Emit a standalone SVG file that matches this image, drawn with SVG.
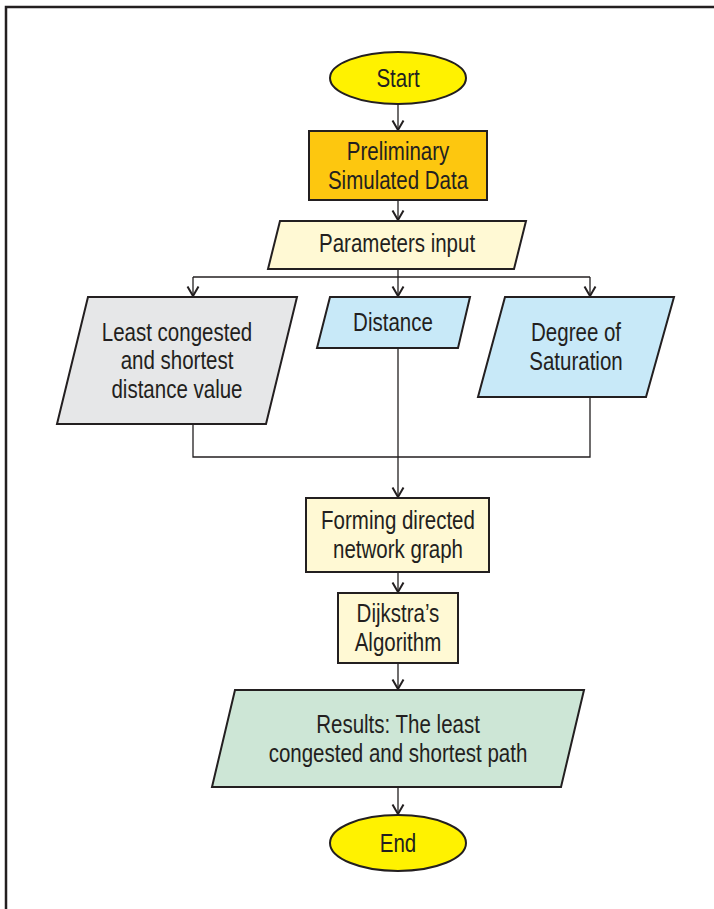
<svg xmlns="http://www.w3.org/2000/svg" width="714" height="909" viewBox="0 0 714 909">
  <style>
    .shape { stroke: #231f20; stroke-width: 2; }
    .conn { fill: none; stroke: #231f20; stroke-width: 1.3; }
    .lbl { font-family: "Liberation Sans", Arial, sans-serif; font-size: 25px; fill: #231f20; text-anchor: middle;
           transform-box: fill-box; transform-origin: center; transform: scaleX(0.82); }
  </style>
  <defs>
    <marker id="arrow" markerUnits="userSpaceOnUse" markerWidth="14" markerHeight="14" refX="12" refY="7" orient="auto" viewBox="0 0 14 14">
      <path d="M2.5,1.5 L12,7 L2.5,12.5" fill="none" stroke="#231f20" stroke-width="2"/>
    </marker>
  </defs>
  <rect width="714" height="909" fill="#ffffff"/>
  <!-- outer frame -->
  <rect x="6" y="7" width="720" height="920" fill="none" stroke="#231f20" stroke-width="2.5"/>

  <g id="connectors">
    <path class="conn" d="M398,104 V130" marker-end="url(#arrow)"/>
    <path class="conn" d="M398,200 V220" marker-end="url(#arrow)"/>
    <path class="conn" d="M398,269 V296" marker-end="url(#arrow)"/>
    <path class="conn" d="M193,277 H590"/>
    <path class="conn" d="M193,277 V296" marker-end="url(#arrow)"/>
    <path class="conn" d="M590,277 V296" marker-end="url(#arrow)"/>
    <path class="conn" d="M193,424 V457 H590 V397"/>
    <path class="conn" d="M398,348 V497" marker-end="url(#arrow)"/>
    <path class="conn" d="M398,572 V592" marker-end="url(#arrow)"/>
    <path class="conn" d="M398,663 V689" marker-end="url(#arrow)"/>
    <path class="conn" d="M398,787 V814" marker-end="url(#arrow)"/>
  </g>

  <g id="start">
    <ellipse class="shape" cx="398" cy="78" rx="68" ry="26" fill="#fff200"/>
    <text class="lbl" x="398" y="87">Start</text>
  </g>

  <g id="preliminary">
    <rect class="shape" x="309" y="131" width="178" height="69" fill="#fdc70f"/>
    <text class="lbl" x="398" y="160">Preliminary</text>
    <text class="lbl" x="398" y="189">Simulated Data</text>
  </g>

  <g id="parameters">
    <polygon class="shape" points="280,221 526,221 514,269 268,269" fill="#fff9d4"/>
    <text class="lbl" x="397" y="252">Parameters input</text>
  </g>

  <g id="least">
    <polygon class="shape" points="88,297 297,297 266,424 57,424" fill="#e6e7e8"/>
    <text class="lbl" x="177" y="341">Least congested</text>
    <text class="lbl" x="177" y="369">and shortest</text>
    <text class="lbl" x="177" y="398">distance value</text>
  </g>

  <g id="distance">
    <polygon class="shape" points="330,297 470,297 458,348 317,348" fill="#c8e9f8"/>
    <text class="lbl" x="393" y="331">Distance</text>
  </g>

  <g id="saturation">
    <polygon class="shape" points="505,297 674,297 646,397 478,397" fill="#c8e9f8"/>
    <text class="lbl" x="576" y="341">Degree of</text>
    <text class="lbl" x="576" y="370">Saturation</text>
  </g>

  <g id="graph">
    <rect class="shape" x="306" y="498" width="183" height="74" fill="#fff9d4"/>
    <text class="lbl" x="398" y="529">Forming directed</text>
    <text class="lbl" x="398" y="558">network graph</text>
  </g>

  <g id="dijkstra">
    <rect class="shape" x="338" y="593" width="120" height="70" fill="#fff9d4"/>
    <text class="lbl" x="398" y="622">Dijkstra’s</text>
    <text class="lbl" x="398" y="651">Algorithm</text>
  </g>

  <g id="results">
    <polygon class="shape" points="235,690 584,690 561,787 212,787" fill="#cde6d6"/>
    <text class="lbl" x="398" y="733">Results: The least</text>
    <text class="lbl" x="398" y="762">congested and shortest path</text>
  </g>

  <g id="end">
    <ellipse class="shape" cx="398" cy="843" rx="68" ry="28" fill="#fff200"/>
    <text class="lbl" x="398" y="852">End</text>
  </g>
</svg>
